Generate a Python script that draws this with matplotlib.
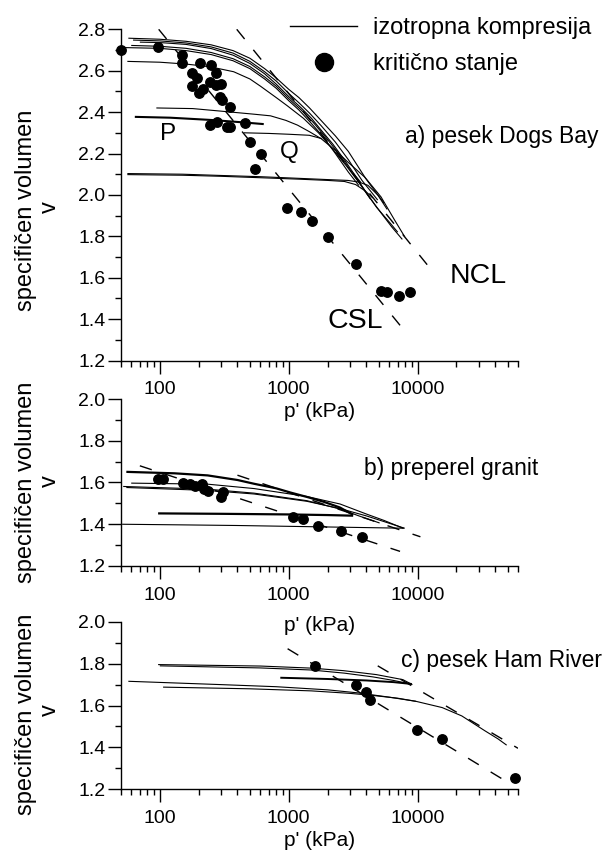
import matplotlib
matplotlib.use("Agg")
import matplotlib.pyplot as plt
import matplotlib.ticker as mt
from matplotlib.lines import Line2D

plt.rcParams['font.family'] = ['Liberation Sans', 'DejaVu Sans']

# ---------------- data ----------------
XTICKS = [100, 1000, 10000]
XTICKLABELS = ['100', '1000', '10000']

# panel a) pesek Dogs Bay - critical state points
a_pts_p = [50, 97, 149, 149, 177, 205, 249, 274, 193, 179, 218, 203, 245, 298, 271,
           294, 303, 348, 243, 277, 332, 349, 456, 499, 604, 552, 977, 1240, 1503,
           2006, 3336, 5230, 5830, 7140, 8710]
a_pts_v = [2.700, 2.713, 2.676, 2.635, 2.590, 2.635, 2.627, 2.590, 2.563, 2.527, 2.514,
           2.490, 2.546, 2.538, 2.530, 2.474, 2.458, 2.425, 2.337, 2.350, 2.328, 2.326,
           2.345, 2.256, 2.196, 2.127, 1.938, 1.917, 1.876, 1.796, 1.667, 1.534,
           1.529, 1.513, 1.529]

# panel a compression curves
a1_p = [57, 100, 160, 250, 370, 500, 650, 800, 1000, 1200, 1450, 1780, 2300, 2900, 3900, 5200, 6600, 7950]
a1_v = [2.757, 2.752, 2.742, 2.725, 2.697, 2.660, 2.610, 2.565, 2.510, 2.470, 2.420, 2.360, 2.285, 2.210, 2.085, 1.990, 1.880, 1.797]
a2_p = [62, 100, 160, 250, 370, 500, 650, 800, 1000, 1200, 1450, 1780, 2300, 2900, 3700, 4900]
a2_v = [2.748, 2.744, 2.734, 2.715, 2.685, 2.645, 2.595, 2.550, 2.490, 2.445, 2.395, 2.335, 2.255, 2.170, 2.070, 1.975]
a3_p = [70, 100, 160, 250, 370, 500, 650, 800, 1000, 1250, 1500, 1800, 2200, 2700, 3300, 4100, 5100, 6300, 7600]
a3_v = [2.738, 2.736, 2.727, 2.707, 2.675, 2.635, 2.585, 2.535, 2.475, 2.420, 2.370, 2.310, 2.245, 2.170, 2.090, 2.000, 1.920, 1.845, 1.785]
a4_p = [50, 100, 160, 250, 370, 500, 650, 800, 1000, 1200, 1500, 1850, 2300, 2900, 3500]
a4_v = [2.712, 2.708, 2.697, 2.678, 2.648, 2.610, 2.560, 2.515, 2.455, 2.410, 2.345, 2.280, 2.200, 2.110, 2.045]
a5_p = [60, 100, 160, 250, 370, 500, 650, 800, 1000, 1250, 1550, 1900, 2400, 3000, 3800, 4800, 6000, 7000]
a5_v = [2.722, 2.718, 2.708, 2.688, 2.658, 2.620, 2.570, 2.525, 2.465, 2.410, 2.350, 2.285, 2.205, 2.120, 2.030, 1.940, 1.870, 1.820]
a6_p = [56, 100, 160, 245, 374, 500, 604, 800, 977, 1300, 1700, 2200, 2800, 3500, 4300]
a6_v = [2.645, 2.641, 2.632, 2.619, 2.595, 2.560, 2.525, 2.470, 2.430, 2.370, 2.300, 2.220, 2.140, 2.060, 1.980]
a7_p = [94, 180, 294, 535, 722, 950, 1170, 1450, 1780, 2300, 2870, 3880, 4900, 5800]
a7_v = [2.420, 2.417, 2.405, 2.390, 2.382, 2.360, 2.337, 2.305, 2.272, 2.215, 2.159, 2.086, 2.000, 1.930]
aP_p = [64, 120, 250, 450, 640]
aP_v = [2.377, 2.373, 2.362, 2.350, 2.342]
aQ_p = [448, 700, 1000, 1443, 1800]
aQ_v = [2.300, 2.297, 2.293, 2.288, 2.272]
a8_p = [56, 150, 294, 600, 1200, 2000, 2870, 3500, 4120, 4930, 5500]
a8_v = [2.103, 2.100, 2.094, 2.088, 2.080, 2.074, 2.070, 2.062, 2.046, 1.998, 1.960]
a9_p = [56, 150, 294, 600, 1200, 2000, 2700, 3300, 3900, 4500]
a9_v = [2.098, 2.095, 2.090, 2.083, 2.076, 2.070, 2.065, 2.050, 2.020, 1.985]
a_csl_p = [98, 7300]
a_csl_v = [2.80, 1.37]
a_ncl_p = [395, 12500]
a_ncl_v = [2.80, 1.645]

# panel b) preperel granit
b_pts_p = [97, 106, 151, 170, 188, 213, 222, 235, 307, 298, 1080, 1300, 1680, 2540, 3700]
b_pts_v = [1.616, 1.619, 1.600, 1.592, 1.581, 1.592, 1.571, 1.560, 1.556, 1.529, 1.433, 1.425, 1.390, 1.370, 1.341]
b1_p = [55, 130, 235, 400, 538, 800, 1030, 1400, 1860, 2500, 3160]
b1_v = [1.651, 1.644, 1.634, 1.612, 1.594, 1.572, 1.552, 1.530, 1.508, 1.480, 1.445]
b2_p = [97, 300, 1000, 2000, 3160]
b2_v = [1.452, 1.450, 1.447, 1.444, 1.441]
b3_p = [60, 235, 538, 1380, 2500, 4000, 5500, 7700]
b3_v = [1.597, 1.592, 1.571, 1.533, 1.497, 1.449, 1.418, 1.381]
b4_p = [52, 235, 538, 1380, 2500, 3500, 5070]
b4_v = [1.581, 1.568, 1.549, 1.513, 1.473, 1.440, 1.406]
b5_p = [55, 235, 538, 1380, 2500, 4000, 6000, 7900]
b5_v = [1.576, 1.562, 1.545, 1.510, 1.475, 1.440, 1.405, 1.381]
b6_p = [51, 150, 400, 1000, 2500, 5000, 7900]
b6_v = [1.400, 1.397, 1.394, 1.390, 1.386, 1.383, 1.381]
b_csl_p = [70, 7300]
b_csl_v = [1.68, 1.27]
b_ncl_p = [400, 10500]
b_ncl_v = [1.635, 1.34]

# panel c) pesek Ham River
c_pts_p = [1600, 3300, 3940, 4270, 9820, 15500, 56400]
c_pts_v = [1.791, 1.696, 1.665, 1.625, 1.481, 1.440, 1.253]
c1_p = [97, 605, 1500, 2650, 4780, 7670, 9100]
c1_v = [1.796, 1.789, 1.779, 1.767, 1.748, 1.724, 1.700]
c2_p = [100, 600, 1500, 2700, 4500, 6500, 9000]
c2_v = [1.790, 1.780, 1.770, 1.755, 1.737, 1.720, 1.702]
c3_p = [860, 2000, 4000, 6500, 9000]
c3_v = [1.733, 1.727, 1.720, 1.712, 1.703]
c4_p = [57, 300, 800, 2000, 3500, 6000, 9700, 15500, 22000, 33000, 42000, 49000]
c4_v = [1.716, 1.700, 1.690, 1.675, 1.660, 1.640, 1.620, 1.590, 1.550, 1.480, 1.440, 1.410]
c5_p = [106, 500, 1500, 3000, 4500, 7000, 9700]
c5_v = [1.688, 1.680, 1.670, 1.658, 1.648, 1.635, 1.620]
c_csl_p = [980, 50000]
c_csl_v = [1.872, 1.232]
c_ncl_p = [4900, 60000]
c_ncl_v = [1.790, 1.395]

# ---------------- figure ----------------
W, H = 603, 852
fig = plt.figure(figsize=(W / 100, H / 100), dpi=100)


def add_ax(top, bottom, left=121, right=518):
    return fig.add_axes([left / W, 1 - bottom / H, (right - left) / W, (bottom - top) / H])


def style(ax, ymin, ymax, labelpad):
    ax.set_xscale('log')
    ax.set_xlim(50, 60000)
    ax.set_ylim(ymin, ymax)
    for s in ('top', 'right'):
        ax.spines[s].set_visible(False)
    for s in ('left', 'bottom'):
        ax.spines[s].set_linewidth(1.0)
    ax.xaxis.set_major_locator(mt.FixedLocator(XTICKS))
    ax.xaxis.set_major_formatter(mt.FixedFormatter(XTICKLABELS))
    ax.xaxis.set_minor_locator(mt.LogLocator(base=10, subs=range(2, 10), numticks=30))
    ax.xaxis.set_minor_formatter(mt.NullFormatter())
    ax.yaxis.set_major_locator(mt.MultipleLocator(0.2))
    ax.yaxis.set_minor_locator(mt.MultipleLocator(0.1))
    ax.yaxis.set_major_formatter(mt.FormatStrFormatter('%.1f'))
    ax.tick_params(which='major', length=9.5, width=1.0, labelsize=14, direction='out')
    ax.tick_params(which='minor', length=4.2, width=1.0, direction='out')
    ax.tick_params(axis='y', which='major', pad=1.7)
    ax.tick_params(axis='x', which='major', pad=5.3)
    ax.set_xlabel("p' (kPa)", fontsize=15, labelpad=labelpad)
    ax.patch.set_alpha(0)


def curve(ax, p, v, lw=0.8):
    ax.plot(p, v, color='black', lw=lw, solid_capstyle='butt')


def dashed(ax, p, v):
    ln, = ax.plot(p, v, color='black', lw=1.0)
    ln.set_dashes((9, 10))


def points(ax, p, v):
    ax.plot(p, v, 'o', color='black', ms=6.8, clip_on=False, zorder=5)


# panel a
axa = add_ax(29.3, 360.5)
style(axa, 1.2, 2.8, 2.5)
for p, v in [(a1_p, a1_v), (a2_p, a2_v), (a3_p, a3_v), (a4_p, a4_v), (a5_p, a5_v),
             (a6_p, a6_v), (a7_p, a7_v), (aQ_p, aQ_v), (a8_p, a8_v), (a9_p, a9_v)]:
    curve(axa, p, v)
curve(axa, aP_p, aP_v, lw=1.5)
dashed(axa, a_csl_p, a_csl_v)
dashed(axa, a_ncl_p, a_ncl_v)
points(axa, a_pts_p, a_pts_v)
axa.text(115, 2.296, 'P', fontsize=17.5, ha='center', va='center')
axa.text(1018, 2.207, 'Q', fontsize=17.5, ha='center', va='center')
axa.text(29400, 1.61, 'NCL', fontsize=20.5, ha='center', va='center')
axa.text(3280, 1.389, 'CSL', fontsize=20.5, ha='center', va='center')

# panel b
axb = add_ax(399, 566)
style(axb, 1.2, 2.0, 9)
for p, v in [(b3_p, b3_v), (b4_p, b4_v), (b5_p, b5_v), (b6_p, b6_v)]:
    curve(axb, p, v)
curve(axb, b1_p, b1_v, lw=1.6)
curve(axb, b2_p, b2_v, lw=1.6)
dashed(axb, b_csl_p, b_csl_v)
dashed(axb, b_ncl_p, b_ncl_v)
points(axb, b_pts_p, b_pts_v)

# panel c
axc = add_ax(622, 789)
style(axc, 1.2, 2.0, 3.5)
for p, v in [(c1_p, c1_v), (c2_p, c2_v), (c4_p, c4_v), (c5_p, c5_v)]:
    curve(axc, p, v)
curve(axc, c3_p, c3_v, lw=1.4)
dashed(axc, c_csl_p, c_csl_v)
dashed(axc, c_ncl_p, c_ncl_v)
points(axc, c_pts_p, c_pts_v)

# panel titles
fig.text(405 / W, 1 - 137 / H, 'a) pesek Dogs Bay', fontsize=16.5, ha='left', va='center')
fig.text(364 / W, 1 - 468 / H, 'b) preperel granit', fontsize=16.5, ha='left', va='center')
fig.text(401 / W, 1 - 660 / H, 'c) pesek Ham River', fontsize=16.5, ha='left', va='center')

# y labels
for yc, yv in [(210, 207), (482, 481), (714, 710)]:
    fig.text(26 / W, 1 - yc / H, 'specifičen volumen', rotation=90, fontsize=17,
             ha='center', va='center')
    fig.text(50 / W, 1 - yv / H, 'v', rotation=90, fontsize=17, ha='center', va='center')

# legend
handles = [Line2D([], [], color='black', lw=1.0),
           Line2D([], [], color='black', marker='o', ls='none', ms=13)]
fig.legend(handles, ['izotropna kompresija', 'kritično stanje'], loc='upper left',
           bbox_to_anchor=(290 / W, 1 - 17 / H), frameon=False, fontsize=17,
           handlelength=2.84, handletextpad=0.68, borderpad=0, borderaxespad=0,
           labelspacing=0.6, numpoints=1)

fig.savefig('out.png', dpi=100)
